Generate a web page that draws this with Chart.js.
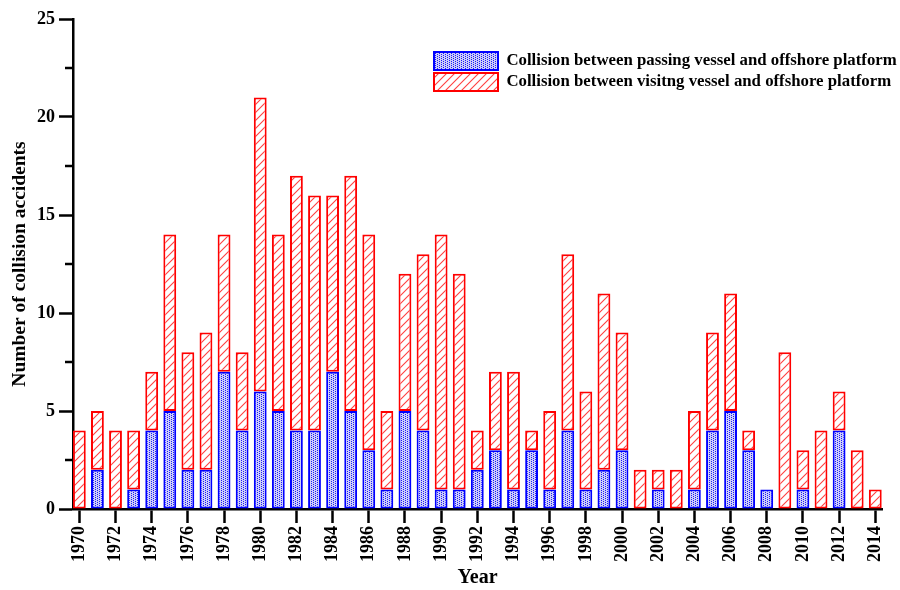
<!DOCTYPE html>
<html><head><meta charset="utf-8">
<script src="https://cdn.jsdelivr.net/npm/chart.js@4/dist/chart.umd.min.js"></script>
<style>html,body{margin:0;padding:0;background:#fff}#wrap{width:900px;height:590px}</style>
</head><body><div id="wrap"><canvas id="c" width="900" height="590"></canvas></div>
<script>
const years = [1970,1971,1972,1973,1974,1975,1976,1977,1978,1979,1980,1981,1982,1983,1984,1985,1986,1987,1988,1989,1990,1991,1992,1993,1994,1995,1996,1997,1998,1999,2000,2001,2002,2003,2004,2005,2006,2007,2008,2009,2010,2011,2012,2013,2014];
const passing  = [0,2,0,1,4,5,2,2,7,4,6,5,4,4,7,5,3,1,5,4,1,1,2,3,1,3,1,4,1,2,3,0,1,0,1,4,5,3,1,0,1,0,4,0,0];
const visiting = [4,3,4,3,3,9,6,7,7,4,15,9,13,12,9,12,11,4,7,9,13,11,2,4,6,1,4,9,5,9,6,2,1,2,4,5,6,1,0,8,2,4,2,3,1];
const xTickYears = [1970,1972,1974,1976,1978,1980,1982,1984,1986,1988,1990,1992,1994,1996,1998,2000,2002,2004,2006,2008,2010,2012,2014];
const seriesNames = ['Collision between passing vessel and offshore platform','Collision between visitng vessel and offshore platform'];

const FAM = "'Liberation Serif','Times New Roman',serif";
Chart.defaults.font.family = FAM;
Chart.defaults.color = '#000';

function makeDotPattern(){
  const t = document.createElement('canvas'); t.width = 4; t.height = 4;
  const g = t.getContext('2d');
  g.fillStyle = '#cfcff6'; g.fillRect(0,0,4,4);
  g.fillStyle = '#1a1aff';
  [[1,0],[1,2],[3,1],[3,3]].forEach(p=>g.fillRect(p[0],p[1],1,1));
  return g.createPattern(t,'repeat');
}
function makeHatchPattern(){
  const t = document.createElement('canvas'); t.width = 8; t.height = 8;
  const g = t.getContext('2d');
  g.fillStyle = '#fff'; g.fillRect(0,0,8,8);
  g.strokeStyle = 'rgba(255,30,30,0.85)'; g.lineWidth = 1.1;
  g.beginPath();
  g.moveTo(-1,9); g.lineTo(9,-1);
  g.moveTo(-1,1); g.lineTo(1,-1);
  g.moveTo(7,9); g.lineTo(9,7);
  g.stroke();
  return g.createPattern(t,'repeat');
}

const helperPlugin = {
  id: 'helperPlugin',
  afterLayout(chart){
    const lg = chart.legend;
    if (lg){
      lg.left = 431; lg.top = 49;
      lg.right = 900; lg.bottom = 100;
      lg.width = lg.right - lg.left; lg.height = lg.bottom - lg.top;
    }
  },
  afterDraw(chart){
    const y = chart.scales.y, ctx = chart.ctx;
    ctx.save(); ctx.strokeStyle = '#000'; ctx.lineWidth = 2.5;
    y.ticks.forEach(t=>{
      if (t.value % 5 !== 0){
        const py = Math.round(y.getPixelForValue(t.value));
        ctx.beginPath(); ctx.moveTo(y.right-8, py); ctx.lineTo(y.right, py); ctx.stroke();
      }
    });
    ctx.restore();
  }
};

new Chart(document.getElementById('c'), {
  type: 'bar',
  data: {
    labels: years,
    datasets: [
      {label: seriesNames[0], data: passing, backgroundColor: makeDotPattern(), borderColor: '#0000ff', borderWidth: 2, borderSkipped: false},
      {label: seriesNames[1], data: visiting, backgroundColor: makeHatchPattern(), borderColor: '#ff0000', borderWidth: 2, borderSkipped: false}
    ]
  },
  options: {
    responsive: false, animation: false, devicePixelRatio: 1,
    layout: {padding: {top: 19, right: 13, left: 0, bottom: 0}},
    datasets: {bar: {categoryPercentage: 1, barPercentage: 0.71}},
    plugins: {
      legend: {position: 'chartArea', align: 'start',
        labels: {boxWidth: 64, boxHeight: 18, padding: 3, color: '#000', font: {size: 16.8, weight: 'bold', family: FAM}}},
      tooltip: {enabled: false}
    },
    scales: {
      x: {
        type: 'linear', stacked: true, min: 1969.65, max: 2014.38, offset: false,
        afterBuildTicks: s => { s.ticks = xTickYears.map(v => ({value: v})); },
        afterFit: s => { s.height = 81; },
        grid: {offset: false, drawOnChartArea: false, drawTicks: true, tickLength: 14, tickWidth: 2.5, tickColor: '#000'},
        border: {display: true, color: '#000', width: 2.5},
        ticks: {autoSkip: false, minRotation: 90, maxRotation: 90, padding: 3, color: '#000',
          font: {size: 18, weight: 'bold', family: FAM}, callback: v => String(v)},
        title: {display: true, text: 'Year', color: '#000', font: {size: 20, weight: 'bold', family: FAM}, padding: {top: 0, bottom: 0}}
      },
      y: {
        stacked: true, min: 0, max: 25,
        afterFit: s => { s.width = 73; },
        grid: {drawOnChartArea: false, drawTicks: true, tickLength: 14, tickWidth: 2.5,
          tickColor: c => (c.tick && c.tick.value % 5 === 0) ? '#000' : 'rgba(0,0,0,0)'},
        border: {display: true, color: '#000', width: 2.5},
        ticks: {stepSize: 2.5, autoSkip: false, padding: 4, color: '#000',
          font: {size: 18, weight: 'bold', family: FAM},
          callback: v => (v % 5 === 0 ? String(v) : '')},
        title: {display: true, text: 'Number of collision accidents', color: '#000',
          font: {size: 19.5, weight: 'bold', family: FAM}, padding: {top: 8, bottom: 0}}
      }
    }
  },
  plugins: [helperPlugin]
});
</script></body></html>
